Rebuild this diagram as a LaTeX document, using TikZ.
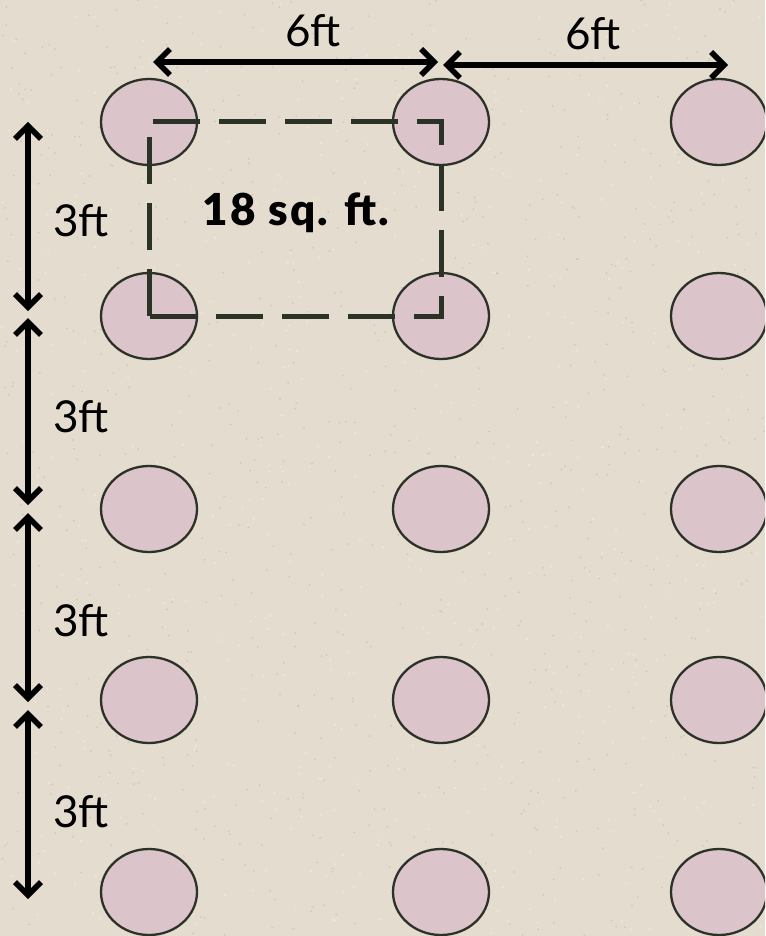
\documentclass[tikz,border=0pt]{standalone}
\usepackage{fontspec}
\setmainfont{Lato}
\newfontfamily\heavyfont{Lato Black}
\usetikzlibrary{arrows.meta,shapes.geometric}
\definecolor{paper}{HTML}{E4DCCF}
\definecolor{speckdark}{HTML}{C4BAA9}
\definecolor{specklight}{HTML}{F2EDE4}
\definecolor{petal}{HTML}{DBC4CA}
\definecolor{rim}{HTML}{2C3227}
\definecolor{plotline}{HTML}{2B3326}
\tikzset{
  plant/.style={ellipse, draw=rim, line width=2.3pt, fill=petal,
    minimum width=96pt, minimum height=86pt, inner sep=0pt},
  barb/.tip={Straight Barb[length=13pt, width=26pt, line width=5.5pt]},
  dimline/.style={line width=6pt, black, barb-barb},
  dimlabel/.style={font=\fontsize{44}{44}\selectfont, text=black, inner sep=0pt},
  arealabel/.style={font=\heavyfont\fontsize{44}{44}\selectfont\addfontfeatures{LetterSpace=5},
    text=black, inner sep=0pt},
  plotbox/.style={draw=plotline, line width=5pt, line join=miter,
    dash pattern=on 47pt off 19pt}
}
\begin{document}
\begin{tikzpicture}[x=1pt, y=-1pt]
  \useasboundingbox (0,0) rectangle (765,936);
  \clip (0,0) rectangle (765,936);

  % paper background with a light grain
  \fill[paper] (0,0) rectangle (765,936);
  \pgfmathsetseed{4711}
  \foreach \i in {1,...,900} {
    \pgfmathsetmacro\px{rnd*765}
    \pgfmathsetmacro\py{rnd*936}
    \fill[speckdark, opacity=0.6] (\px,\py) circle (1pt);
  }
  \foreach \i in {1,...,600} {
    \pgfmathsetmacro\px{rnd*765}
    \pgfmathsetmacro\py{rnd*936}
    \fill[specklight, opacity=0.6] (\px,\py) circle (1.2pt);
  }

  % planting grid: five rows, three columns
  \foreach \r/\y in {1/122, 2/316, 3/509, 4/700, 5/892} {
    \foreach \c/\x in {1/149, 2/441, 3/719} {
      \node[plant] (p\r\c) at (\x,\y) {};
    }
  }

  % area enclosed by four neighbouring plants
  \draw[plotbox] (p21.center) -- (p11.center) -- (p12.center) -- (p22.center) -- cycle;
  \node[arealabel] (area) at (296,213) {18 sq. ft.};

  % horizontal spacing
  \coordinate (hA) at (153,62);
  \coordinate (hB) at (438,62);
  \coordinate (hC) at (443,65);
  \coordinate (hD) at (728,65);
  \draw[dimline] (hA) -- (hB);
  \draw[dimline] (hC) -- (hD);
  \node[dimlabel] (w1) at (313,31) {6ft};
  \node[dimlabel] (w2) at (593,34) {6ft};

  % vertical spacing
  \coordinate (v1a) at (28,122);
  \coordinate (v1b) at (28,311);
  \coordinate (v2a) at (28,318);
  \coordinate (v2b) at (28,505);
  \coordinate (v3a) at (28,513);
  \coordinate (v3b) at (28,702);
  \coordinate (v4a) at (28,710);
  \coordinate (v4b) at (28,899);
  \draw[dimline] (v1a) -- (v1b);
  \draw[dimline] (v2a) -- (v2b);
  \draw[dimline] (v3a) -- (v3b);
  \draw[dimline] (v4a) -- (v4b);
  \node[dimlabel] (h1) at (81,221) {3ft};
  \node[dimlabel] (h2) at (81,417) {3ft};
  \node[dimlabel] (h3) at (81,621) {3ft};
  \node[dimlabel] (h4) at (81,812) {3ft};
\end{tikzpicture}
\end{document}
